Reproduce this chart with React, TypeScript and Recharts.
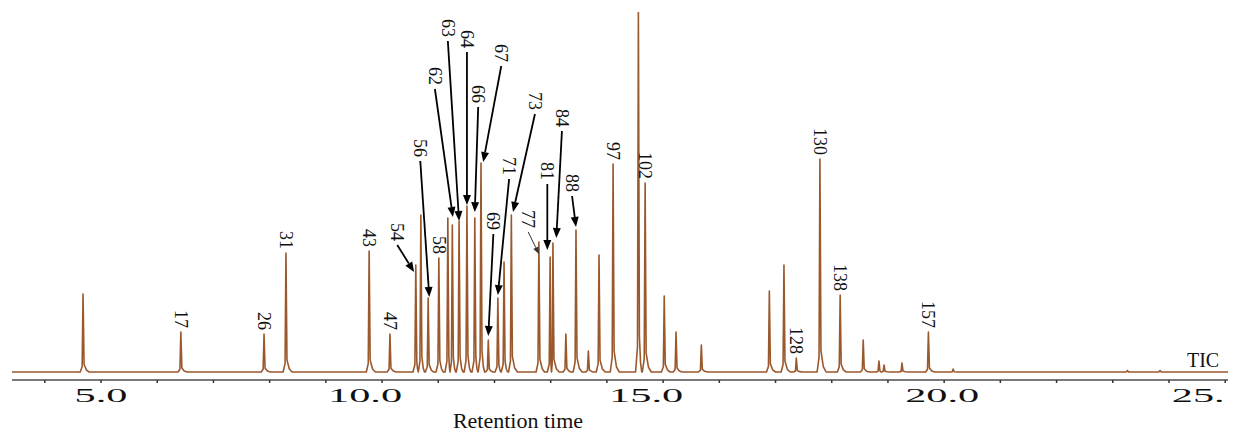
import React from "react";
import { LineChart, Line, XAxis, YAxis, ReferenceDot, ReferenceLine, Label } from "recharts";

// retention time window shown on the x axis (min)
const X_MIN = 3.416;
const X_MAX = 25.05;

// peak apex retention times (min) and heights (arbitrary units)
const peakTimes = [
  4.68, 6.42, 7.9, 8.29, 9.77, 10.14, 10.6, 10.69, 10.82, 11.01, 11.17, 11.25, 11.37, 11.51, 11.65,
  11.76, 11.89, 12.06, 12.17, 12.3, 12.79, 12.99, 13.04, 13.27, 13.45, 13.67, 13.86, 14.11, 14.56,
  14.68, 15.02, 15.23, 15.68, 16.89, 17.15, 17.37, 17.79, 18.15, 18.56, 18.84, 18.93, 19.25, 19.72,
  20.16, 23.26, 23.84,
];
const peakHeights = [
  78, 40, 38, 119, 121, 38, 107, 157, 74, 114, 154, 147, 151, 166, 154,
  209, 32, 74, 110, 157, 130, 115, 129, 38, 142, 21, 117, 208, 360,
  189, 76, 40, 27, 81, 107, 14, 213, 77, 32, 11, 7, 9, 40,
  3, 1.5, 1.5,
];

// labels written straight above their peak
const directLabels = ["17", "26", "31", "43", "47", "58", "97", "102", "128", "130", "138", "157"];
const directLabelTimes = [6.42, 7.9, 8.29, 9.77, 10.14, 11.01, 14.11, 14.68, 17.37, 17.79, 18.15, 19.72];

// labels with an arrow pointing to the peak
const arrowLabels = ["54", "56", "62", "63", "64", "66", "67", "69", "71", "73", "77", "81", "84", "88"];
const arrowLabelTimes = [10.27, 10.68, 10.94, 11.17, 11.51, 11.71, 12.12, 11.98, 12.26, 12.72, 12.6, 12.94, 13.2, 13.38];
const arrowLabelLevels = [131, 215, 287, 335, 324, 269, 310, 142, 197, 262, 144, 192, 245, 180];
const arrowTargetTimes = [10.57, 10.84, 11.26, 11.37, 11.51, 11.65, 11.8, 11.89, 12.06, 12.33, 12.79, 12.94, 13.1, 13.45];
const arrowTargetLevels = [100, 75, 155, 151, 167, 160, 210, 36, 77, 160, 118, 122, 134, 145];
const thinArrows = ["77"];

// axis ticks
const minorTicks = [4, 5, 6, 7, 8, 9, 10, 11, 12, 13, 14, 15, 16, 17, 18, 19, 20, 21, 22, 23, 24, 25];
const majorTicks = [5, 10, 15, 20, 25];
const tickLabels = ["5.0", "10.0", "15.0", "20.0", "25."];

const SERIF = "Liberation Serif, Times New Roman, serif";
const TRACE = "#9a582c";

// turn the peak table into a drawable trace (narrow peak with a small tail)
const trace: { t: number; v: number }[] = [{ t: X_MIN, v: 0 }];
peakTimes.forEach((t, i) => {
  const h = peakHeights[i];
  const prev = i > 0 ? peakTimes[i - 1] : -Infinity;
  const next = i < peakTimes.length - 1 ? peakTimes[i + 1] : Infinity;
  const left = Math.max(t - 0.05, (prev + t) / 2);
  const right = Math.min(t + 0.11, (t + next) / 2);
  const riseL = Math.max(t - 0.016, (left + t) / 2);
  const fallR = Math.min(t + 0.018, (t + right) / 2);
  const tail = Math.min(t + 0.06, (fallR + right) / 2);
  trace.push(
    { t: left, v: 0 },
    { t: riseL, v: h * 0.07 },
    { t, v: h },
    { t: fallR, v: h * 0.1 },
    { t: tail, v: h * 0.025 },
    { t: right, v: 0 }
  );
});
trace.push({ t: X_MAX, v: 0 });

const heightAt = (t: number) => peakHeights[peakTimes.indexOf(t)];

const tickShift = [0, -17, -17, -2, -27];

const AxisTick = (props: any) => {
  const { x, y, payload } = props;
  const idx = majorTicks.indexOf(payload.value);
  if (idx < 0) return <g />;
  return (
    <g transform={`translate(${x + tickShift[idx]},${y + 17})`}>
      <text transform="scale(2.35,1)" textAnchor="middle" fontFamily={SERIF} fontSize={18} fill="#111">
        {tickLabels[idx]}
      </text>
    </g>
  );
};

const vertText = (name: string, gap: number) => (p: any) => (
  <text
    transform={`translate(${p.cx},${p.cy - gap}) rotate(90)`}
    textAnchor="end"
    dominantBaseline="central"
    fontFamily={SERIF}
    fontSize={18}
    fill="#111"
  >
    {name}
  </text>
);

const arrowShape = (thin: boolean) => (p: any) => {
  const x1 = p.x1;
  const y1 = p.y1 + 4;
  const { x2, y2 } = p;
  const len = Math.hypot(x2 - x1, y2 - y1);
  const dx = (x2 - x1) / len;
  const dy = (y2 - y1) / len;
  const L = thin ? 7 : 10;
  const W = thin ? 2.8 : 4;
  const bx = x2 - dx * L;
  const by = y2 - dy * L;
  const color = thin ? "#333" : "#000";
  return (
    <g>
      <line x1={x1} y1={y1} x2={bx} y2={by} stroke={color} strokeWidth={thin ? 1 : 1.8} />
      <polygon
        points={`${x2},${y2} ${bx - dy * W},${by + dx * W} ${bx + dy * W},${by - dx * W}`}
        fill={color}
      />
    </g>
  );
};

const axisTitle = (p: any) => {
  const vb = p.viewBox;
  return (
    <text x={vb.x + vb.width / 2 - 102} y={vb.y + 48} textAnchor="middle" fontFamily={SERIF} fontSize={22} fill="#111">
      Retention time
    </text>
  );
};

export default function App() {
  return (
    <div style={{ position: "absolute", left: 0, top: 0, background: "#fff" }}>
      <LineChart width={1236} height={433} data={trace} margin={{ top: 12, right: 8, bottom: 0, left: 12 }}>
        <XAxis
          type="number"
          dataKey="t"
          domain={[X_MIN, X_MAX]}
          allowDataOverflow
          ticks={minorTicks}
          interval={0}
          height={53}
          tickSize={3}
          tickMargin={2}
          axisLine={{ stroke: "#7a7a7a", strokeWidth: 1.8 }}
          tickLine={{ stroke: "#333", strokeWidth: 1.5 }}
          tick={<AxisTick />}
        >
          <Label position="insideBottom" content={axisTitle} />
        </XAxis>
        <YAxis hide type="number" domain={[-8, 360]} allowDataOverflow />
        <Line
          type="linear"
          dataKey="v"
          stroke={TRACE}
          strokeWidth={1.6}
          strokeLinejoin="round"
          dot={false}
          isAnimationActive={false}
        />
        {directLabels.map((name, i) => (
          <ReferenceDot
            key={`d-${name}`}
            x={directLabelTimes[i]}
            y={heightAt(directLabelTimes[i])}
            r={0}
            ifOverflow="visible"
            shape={vertText(name, 4)}
          />
        ))}
        {arrowLabels.map((name, i) => (
          <ReferenceLine
            key={`al-${name}`}
            segment={[
              { x: arrowLabelTimes[i], y: arrowLabelLevels[i] },
              { x: arrowTargetTimes[i], y: arrowTargetLevels[i] },
            ]}
            ifOverflow="visible"
            shape={arrowShape(thinArrows.includes(name))}
          />
        ))}
        {arrowLabels.map((name, i) => (
          <ReferenceDot
            key={`at-${name}`}
            x={arrowLabelTimes[i]}
            y={arrowLabelLevels[i]}
            r={0}
            ifOverflow="visible"
            shape={vertText(name, 0)}
          />
        ))}
        <ReferenceDot
          x={24.32}
          y={5}
          r={0}
          ifOverflow="visible"
          shape={(p: any) => (
            <text x={p.cx} y={p.cy} fontFamily={SERIF} fontSize={20} fill="#111">
              TIC
            </text>
          )}
        />
      </LineChart>
    </div>
  );
}
